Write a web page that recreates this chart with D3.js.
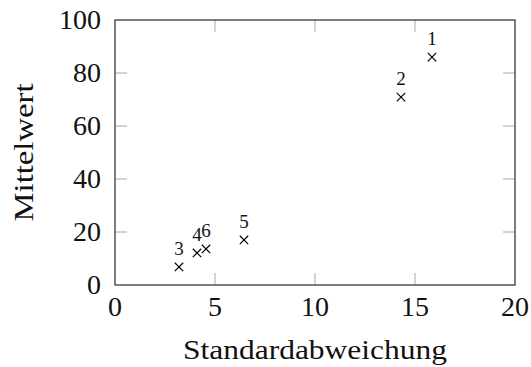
<!DOCTYPE html>
<html>
<head>
<meta charset="utf-8">
<script src="https://cdn.jsdelivr.net/npm/d3@7"></script>
<style>
  html, body { margin: 0; padding: 0; background: #fff; }
  svg { display: block; }
  text { font-family: "Liberation Serif", "Times New Roman", serif; fill: #111; }
</style>
</head>
<body>
<svg id="chart" width="531" height="367"></svg>
<script>
// ---- data ----
const pointLabels = ["1", "2", "3", "4", "5", "6"];
const stdDev = [15.85, 14.3, 3.2, 4.1, 6.45, 4.55];
const meanVal = [86.0, 70.9, 6.8, 12.1, 17.0, 13.6];
const xTicks = [0, 5, 10, 15, 20];
const yTicks = [0, 20, 40, 60, 80, 100];
const xTitle = "Standardabweichung";
const yTitle = "Mittelwert";

(function () {
  const svg = d3.select("#chart");
  const pL = 115, pR = 515, pT = 20, pB = 285;

  const x = d3.scaleLinear().domain([0, 20]).range([pL, pR]);
  const y = d3.scaleLinear().domain([0, 100]).range([pB, pT]);

  const tickLen = 12;
  const tickColor = "#a8a8a8";

  const gT = svg.append("g");
  xTicks.forEach(t => {
    if (t === 0 || t === 20) return;
    gT.append("line").attr("x1", x(t)).attr("x2", x(t)).attr("y1", pB).attr("y2", pB - tickLen)
      .attr("stroke", tickColor).attr("stroke-width", 1);
    gT.append("line").attr("x1", x(t)).attr("x2", x(t)).attr("y1", pT).attr("y2", pT + tickLen)
      .attr("stroke", tickColor).attr("stroke-width", 1);
  });
  yTicks.forEach(t => {
    if (t === 0 || t === 100) return;
    gT.append("line").attr("x1", pL).attr("x2", pL + tickLen).attr("y1", y(t)).attr("y2", y(t))
      .attr("stroke", tickColor).attr("stroke-width", 1);
    gT.append("line").attr("x1", pR).attr("x2", pR - tickLen).attr("y1", y(t)).attr("y2", y(t))
      .attr("stroke", tickColor).attr("stroke-width", 1);
  });

  svg.append("rect").attr("x", pL).attr("y", pT).attr("width", pR - pL).attr("height", pB - pT)
    .attr("fill", "none").attr("stroke", "#3a3a3a").attr("stroke-width", 1.3);

  svg.append("g").selectAll("text").data(xTicks).join("text")
    .attr("x", d => x(d)).attr("y", 316)
    .attr("text-anchor", "middle").attr("font-size", 28)
    .text(d => d);

  svg.append("g").selectAll("text").data(yTicks).join("text")
    .attr("x", 101).attr("y", d => y(d)).attr("dy", "0.33em")
    .attr("text-anchor", "end").attr("font-size", 28)
    .text(d => d);

  svg.append("text").attr("x", (pL + pR) / 2).attr("y", 359)
    .attr("text-anchor", "middle").attr("font-size", 28)
    .attr("textLength", 264).attr("lengthAdjust", "spacingAndGlyphs")
    .text(xTitle);

  svg.append("text").attr("transform", `translate(33,${(pT + pB) / 2}) rotate(-90)`)
    .attr("text-anchor", "middle").attr("font-size", 28)
    .attr("textLength", 138).attr("lengthAdjust", "spacingAndGlyphs")
    .text(yTitle);

  const pts = pointLabels.map((l, i) => ({ l, sx: stdDev[i], m: meanVal[i] }));
  const s = 4.2;
  const gm = svg.append("g");
  pts.forEach(p => {
    const cx = x(p.sx), cy = y(p.m);
    gm.append("path")
      .attr("d", `M${cx - s},${cy - s}L${cx + s},${cy + s}M${cx - s},${cy + s}L${cx + s},${cy - s}`)
      .attr("stroke", "#000").attr("stroke-width", 1.2).attr("fill", "none");
    gm.append("text").attr("x", cx).attr("y", cy - 12)
      .attr("text-anchor", "middle").attr("font-size", 19)
      .text(p.l);
  });
})();
</script>
</body>
</html>
